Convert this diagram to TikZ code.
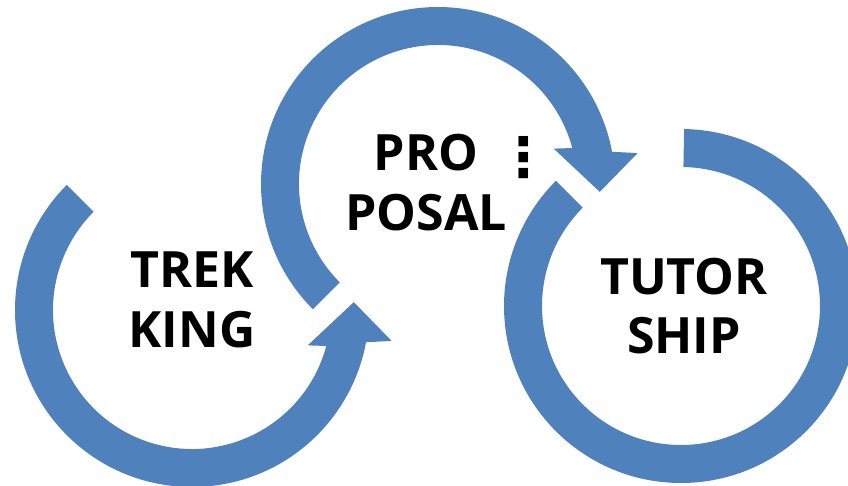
\documentclass[tikz,border=0pt]{standalone}
\usepackage{fontspec}
\setmainfont{Open Sans}
\newfontfamily\symfont{DejaVu Sans}
\usepackage{tikz}
\usetikzlibrary{positioning}
\definecolor{cycleblue}{RGB}{79,129,189}
\tikzset{
  band/.style={fill=cycleblue, draw=none},
  phase/.style={
    font=\bfseries\fontsize{28.5}{34}\selectfont,
    text centered,
    align=center,
    inner sep=0pt},
  dotcol/.style={
    font=\symfont\bfseries\fontsize{31}{34}\selectfont,
    inner sep=0pt},
}

\begin{document}
\begin{tikzpicture}[x=0.02cm,y=0.02cm]
	\useasboundingbox (0,0) rectangle (848,485);
	\coordinate (ctrek) at (192,175);
	\coordinate (cprop) at (438,301);
	\coordinate (ctutor) at (681,179);

	% the three circular arrows
	\fill[band,shift={(ctrek)}] (135:177) arc[start angle=135,end angle=349.5,radius=177]
		-- (-8.8:202) -- (2.8:162) -- (-17:121) -- (-15:139)
		arc[start angle=345,end angle=135,radius=139] -- cycle;
	\fill[band,shift={(cprop)}] (225:177) arc[start angle=225,end angle=10.5,radius=177]
		-- (8.8:202) -- (-2.8:162) -- (17:121) -- (15:139)
		arc[start angle=15,end angle=225,radius=139] -- cycle;
	\fill[band,shift={(ctutor)}] (89:177) arc[start angle=89,end angle=-225,radius=177]
		-- (135:139) arc[start angle=135,end angle=449,radius=139] -- cycle;

	\node[phase,yshift=0.2cm] (trekking) at (ctrek) {TREK\\KING};
	\node[phase,xshift=-0.24cm,yshift=0.03cm] (proposal) at (cprop) {PRO\\POSAL};
	\node[phase,xshift=0.06cm] (tutorship) at (ctutor) {TUTOR\\SHIP};
	\node[dotcol] (dots) at (524,327.5) {⋮};
\end{tikzpicture}
\end{document}
